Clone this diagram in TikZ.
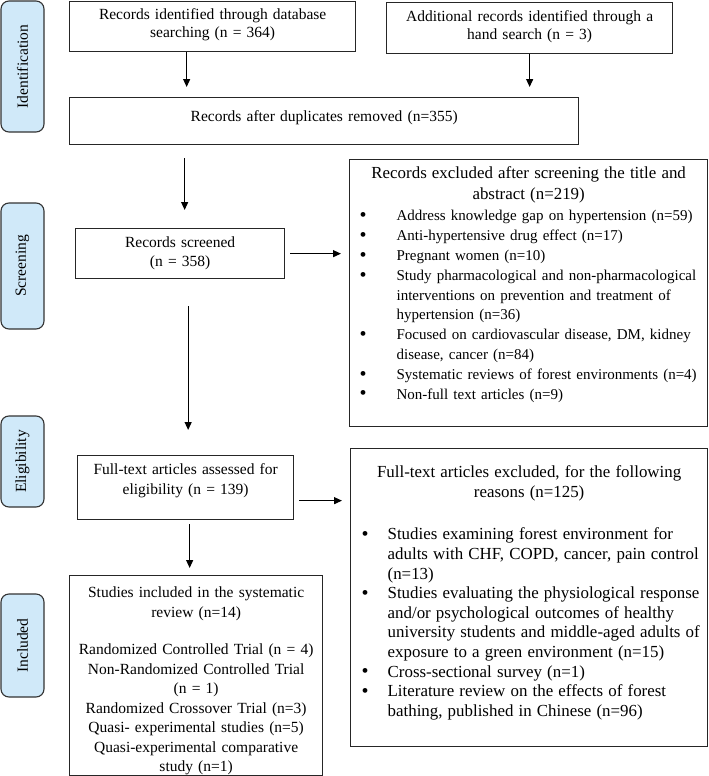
\documentclass[tikz,border=0pt]{standalone}
\usepackage{fontspec}
\setmainfont{Liberation Serif}
\usetikzlibrary{arrows.meta}
\definecolor{lblfill}{RGB}{208,233,249}
\newcommand\bul[2]{\hspace*{#1}\makebox[\dimexpr#2-#1\relax][l]{\raisebox{-0.8pt}{\fontsize{20}{19}\selectfont\textbullet}}}
\newcommand\cont[1]{\hspace*{#1}}
\begin{document}
\begin{tikzpicture}[x=1pt,y=-1pt,
  box/.style={draw=black!85, line width=1.3pt, inner sep=0pt, anchor=north west,
    font=\fontsize{15.5}{18.3}\selectfont},
  lbl/.style={draw=black!80, line width=1.1pt, fill=lblfill, rounded corners=8pt,
    rotate=90, inner sep=0pt, minimum height=43pt, font=\fontsize{15.5}{18}\selectfont},
  arr/.style={-{Triangle[length=8pt,width=7pt]}, line width=1.2pt}]
\fill[white] (0,0) rectangle (709,776);
\useasboundingbox (0,0) rectangle (709,776);

% phase labels
\node[lbl, minimum width=131pt] (l1) at (22.5,66.5) {Identification};
\node[lbl, minimum width=126pt] (l2) at (22.5,266) {Screening};
\node[lbl, minimum width=91pt] (l3) at (22.5,461.5) {Eligibility};
\node[lbl, minimum width=103pt] (l4) at (22.5,645.5) {Included};

% boxes
\node[box, text width=286pt, align=center, text height=18pt, text depth=32pt] (db) at (69,1)
  {Records identified through database\\ searching (n = 364)};
\node[box, text width=286pt, align=center, text height=19pt, text depth=32pt] (hand) at (386,2)
  {Additional records identified through a\\ hand search (n = 3)};
\node[box, text width=509pt, align=center, text height=24pt, text depth=23pt] (dup) at (69,97)
  {Records after duplicates removed (n=355)};
\node[box, text width=209pt, align=center, text height=19pt, text depth=31pt,
  font=\fontsize{15.5}{19}\selectfont] (scr) at (75,228)
  {Records screened\\ (n = 358)};
\node[box, text width=358pt, text height=19pt, text depth=248pt] (ex1) at (349,159) {%
  {\centering\fontsize{16.9}{21}\selectfont Records excluded after screening the title and\\ abstract (n=219)\par}%
  \vspace{1.5pt}%
  {\raggedright\fontsize{15}{19.8}\selectfont
  \bul{10pt}{47pt}Address knowledge gap on hypertension (n=59)\\
  \bul{10pt}{47pt}Anti-hypertensive drug effect (n=17)\\
  \bul{10pt}{47pt}Pregnant women (n=10)\\
  \bul{10pt}{47pt}Study pharmacological and non-pharmacological\\
  \cont{47pt}interventions on prevention and treatment of\\
  \cont{47pt}hypertension (n=36)\\
  \bul{10pt}{47pt}Focused on cardiovascular disease, DM, kidney\\
  \cont{47pt}disease, cancer (n=84)\\
  \bul{10pt}{47pt}Systematic reviews of forest environments (n=4)\\
  \bul{10pt}{47pt}Non-full text articles (n=9)\par}};
\node[box, text width=216pt, align=center, text height=19pt, text depth=45pt,
  font=\fontsize{15.5}{20}\selectfont] (ft) at (77,455)
  {Full-text articles assessed for\\ eligibility (n = 139)};
\node[box, text width=357pt, text height=29pt, text depth=269pt] (ex2) at (350,448) {%
  {\centering\fontsize{16.9}{19.6}\selectfont Full-text articles excluded, for the following\\ reasons (n=125)\par}%
  \vspace{23pt}%
  {\raggedright\fontsize{16.9}{19.6}\selectfont
  \bul{11pt}{37pt}Studies examining forest environment for\\
  \cont{37pt}adults with CHF, COPD, cancer, pain control\\
  \cont{37pt}(n=13)\\
  \bul{11pt}{37pt}Studies evaluating the physiological response\\
  \cont{37pt}and/or psychological outcomes of healthy\\
  \cont{37pt}university students and middle-aged adults of\\
  \cont{37pt}exposure to a green environment (n=15)\\
  \bul{11pt}{37pt}Cross-sectional survey (n=1)\\
  \bul{11pt}{37pt}Literature review on the effects of forest\\
  \cont{37pt}bathing, published in Chinese (n=96)\par}};
\node[box, text width=253pt, align=center, text height=22pt, text depth=178pt,
  font=\fontsize{15.5}{19.5}\selectfont] (inc) at (69,575)
  {Studies included in the systematic\\ review (n=14)\\[18pt]
   Randomized Controlled Trial (n = 4)\\ Non-Randomized Controlled Trial\\ (n = 1)\\
   Randomized Crossover Trial (n=3)\\ Quasi- experimental studies (n=5)\\
   Quasi-experimental comparative\\ study (n=1)};

% connectors
\draw[arr, shorten >=10pt] ([xshift=-26pt]db.south) -- ([xshift=-26pt]db.south |- dup.north);
\draw[arr, shorten >=10pt] (hand.south) -- (hand.south |- dup.north);
\draw[arr, shorten <=13pt, shorten >=18pt] ([xshift=4.5pt]scr.north |- dup.south) -- ([xshift=4.5pt]scr.north);
\draw[arr, shorten <=5pt, shorten >=8pt] (scr.east) -- (scr.east -| ex1.west);
\draw[arr, shorten <=27pt, shorten >=25pt] ([xshift=8pt]scr.south) -- ([xshift=8pt]scr.south |- ft.north);
\draw[arr, shorten <=5pt, shorten >=8pt] ([yshift=-13pt]ft.east) -- ([yshift=-13pt]ft.east -| ex2.west);
\draw[arr, shorten <=4pt, shorten >=7pt] ([xshift=4pt]ft.south) -- ([xshift=4pt]ft.south |- inc.north);
\end{tikzpicture}
\end{document}
